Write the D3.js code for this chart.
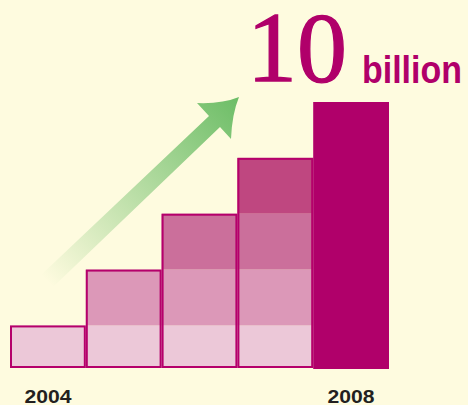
<!DOCTYPE html>
<html>
<head>
<meta charset="utf-8">
<script src="https://cdn.jsdelivr.net/npm/d3@7"></script>
<style>
  html, body { margin: 0; padding: 0; background: #fefbdf; }
  svg { display: block; }
</style>
</head>
<body>
<div id="chart"></div>
<script>
// data (billions)
var years = ["2004", "2005", "2006", "2007", "2008"];
var totals = [1.6, 3.7, 5.8, 7.9, 10];
var tickYears = ["2004", "2008"];
var bandColors = ["#ecc8d8", "#dc98b8", "#cb6f9b", "#bf4780"];
var topColor = "#b0006a";

var W = 468, H = 405;

var svg = d3.select("#chart").append("svg")
    .attr("width", W)
    .attr("height", H);

svg.append("rect").attr("width", W).attr("height", H).attr("fill", "#fefbdf");

var x = d3.scaleBand().domain(years).range([10, 389]).padding(0);
var y = d3.scaleLinear().domain([0, 10]).range([368, 102]);

// arrow with fading gradient
var defs = svg.append("defs");
var grad = defs.append("linearGradient")
    .attr("id", "arrowGrad")
    .attr("gradientUnits", "userSpaceOnUse")
    .attr("x1", 48).attr("y1", 282)
    .attr("x2", 239).attr("y2", 97);
grad.append("stop").attr("offset", 0).attr("stop-color", "#6cbd66").attr("stop-opacity", 0);
grad.append("stop").attr("offset", 0.45).attr("stop-color", "#6cbd66").attr("stop-opacity", 0.45);
grad.append("stop").attr("offset", 1).attr("stop-color", "#6cbd66").attr("stop-opacity", 1);

var arrow = d3.path();
arrow.moveTo(40, 276);
arrow.lineTo(209, 116);
arrow.lineTo(197, 103);
arrow.quadraticCurveTo(222, 104, 239, 97);
arrow.quadraticCurveTo(232, 114, 231, 139);
arrow.lineTo(220, 127);
arrow.lineTo(52, 288);
arrow.closePath();
svg.append("path").attr("d", arrow.toString()).attr("fill", "url(#arrowGrad)");

// stacked bands for the first four bars
var bands = [];
years.forEach(function(yr, i) {
  if (i === years.length - 1) return;
  for (var k = 0; k <= i; k++) {
    bands.push({ year: yr, lo: k === 0 ? 0 : totals[k - 1], hi: totals[k], k: k });
  }
});

var g = svg.append("g");
g.selectAll("rect.band").data(bands).join("rect")
    .attr("class", "band")
    .attr("x", d => x(d.year))
    .attr("y", d => y(d.hi))
    .attr("width", x.bandwidth())
    .attr("height", d => y(d.lo) - y(d.hi))
    .attr("fill", d => bandColors[d.k]);

g.selectAll("rect.outline").data(years.slice(0, 4)).join("rect")
    .attr("class", "outline")
    .attr("x", d => x(d) + 1)
    .attr("y", (d, i) => y(totals[i]) + 1)
    .attr("width", x.bandwidth() - 2)
    .attr("height", (d, i) => y(0) - y(totals[i]) - 2)
    .attr("fill", "none")
    .attr("stroke", "#b5006b")
    .attr("stroke-width", 2);

// final bar, solid
g.append("rect")
    .attr("x", x(years[4]))
    .attr("y", y(totals[4]))
    .attr("width", x.bandwidth())
    .attr("height", y(0) - y(totals[4]) + 1)
    .attr("fill", topColor);

// year labels
var axis = d3.axisBottom(x).tickValues(tickYears).tickSize(0).tickPadding(0);
var ax = svg.append("g")
    .attr("transform", "translate(0,390)")
    .call(axis);
ax.select(".domain").remove();
ax.selectAll("text")
    .attr("dy", "0.72em")
    .attr("font-family", "'Liberation Sans', Arial, sans-serif")
    .attr("font-weight", "bold")
    .attr("font-size", 18)
    .attr("fill", "#231f20")
    .attr("textLength", 47)
    .attr("lengthAdjust", "spacingAndGlyphs");

// headline
svg.append("text")
    .attr("x", 247).attr("y", 81)
    .attr("font-family", "'Liberation Serif', 'Times New Roman', serif")
    .attr("font-size", 99)
    .attr("fill", topColor)
    .attr("stroke", topColor)
    .attr("stroke-width", 1.3)
    .attr("textLength", 100)
    .attr("lengthAdjust", "spacingAndGlyphs")
    .text("10");

svg.append("text")
    .attr("x", 362).attr("y", 83)
    .attr("font-family", "'Liberation Sans', Arial, sans-serif")
    .attr("font-weight", "bold")
    .attr("font-size", 39)
    .attr("fill", topColor)
    .attr("textLength", 100)
    .attr("lengthAdjust", "spacingAndGlyphs")
    .text("billion");
</script>
</body>
</html>
